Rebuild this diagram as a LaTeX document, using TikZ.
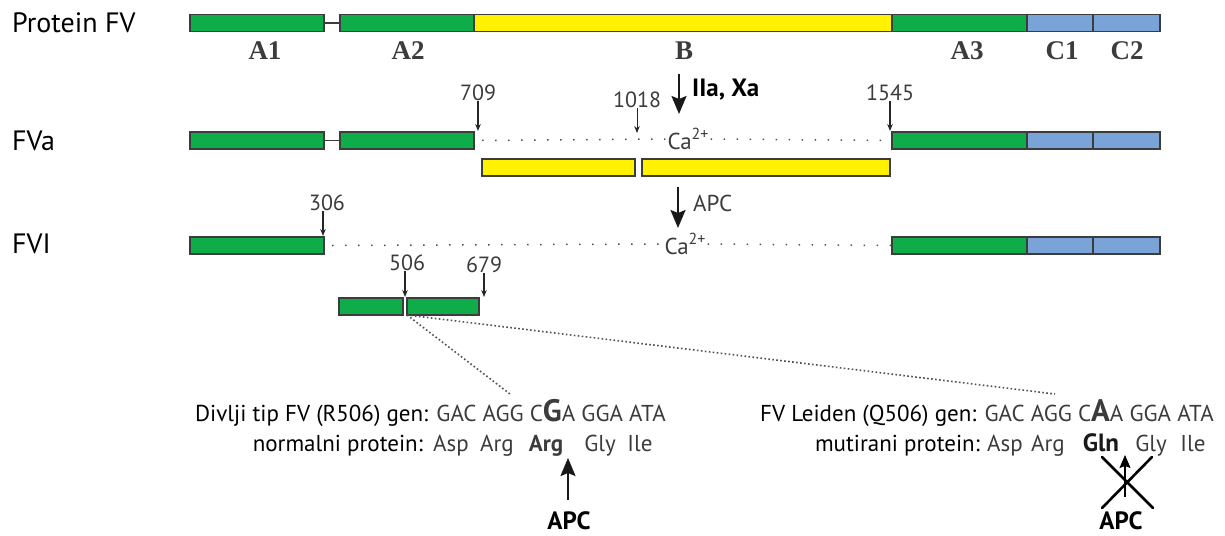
\documentclass[tikz,border=0pt]{standalone}
\usepackage{fontspec}
\setmainfont{PT Sans}
\newfontfamily\serifbf{Liberation Serif}
\usetikzlibrary{arrows.meta}
\definecolor{fvgreen}{RGB}{14,173,74}
\definecolor{fvyellow}{RGB}{255,241,0}
\definecolor{fvblue}{RGB}{122,164,216}
\definecolor{edgec}{RGB}{60,60,60}
\definecolor{txtgray}{RGB}{60,60,60}
\definecolor{dotgray}{RGB}{80,80,80}
\newcommand\casup{Ca\raisebox{0.42em}{\fontsize{16}{16}\selectfont 2+}}
\begin{document}
\begin{tikzpicture}[x=1pt,y=-1pt,
  seg/.style={draw=edgec, line width=1.6pt, minimum height=17pt, inner sep=0pt, outer sep=0pt},
  dom/.style={font=\serifbf\bfseries\fontsize{27}{27}\selectfont, text=txtgray, inner sep=0pt},
  rowlab/.style={font=\fontsize{28}{28}\selectfont, anchor=west, inner sep=0pt},
  num/.style={font=\fontsize{22}{22}\selectfont, text=txtgray, inner sep=0pt},
  ca/.style={font=\fontsize{23}{23}\selectfont, text=txtgray, inner sep=2pt},
  smarrow/.style={-{Stealth[length=7pt,width=5.5pt]}, line width=1.1pt, draw=black!85},
  bigarrow/.style={-{Stealth[length=18pt,width=15pt,inset=3pt]}, line width=2pt, draw=black!90},
  dots/.style={draw=dotgray, line width=1.5pt, dash pattern=on 1.5pt off 11.5pt},
  densedots/.style={draw=dotgray, line width=1.6pt, dash pattern=on 1.6pt off 2.4pt},
  linker/.style={draw=edgec, line width=1.2pt},
  seqtxt/.style={font=\fontsize{23}{23}\selectfont, inner sep=0pt},
  aa/.style={font=\fontsize{23}{23}\selectfont, text=txtgray, inner sep=0pt, anchor=base},
  aab/.style={font=\bfseries\fontsize{25}{25}\selectfont, text=black!90, inner sep=0pt, anchor=base},
  apc/.style={font=\bfseries\fontsize{25}{25}\selectfont, inner sep=0pt, anchor=base}
]
\useasboundingbox (0,0) rectangle (1225,535);

% ---------- Row 1: Protein FV ----------
\node[rowlab] (lab1) at (12,23) {Protein FV};
\node[seg, fill=fvgreen,  minimum width=134pt] (r1a1) at (257,23) {};
\node[seg, fill=fvgreen,  minimum width=134pt] (r1a2) at (407,23) {};
\node[seg, fill=fvyellow, minimum width=418pt] (r1b)  at (683,23) {};
\node[seg, fill=fvgreen,  minimum width=135pt] (r1a3) at (959.5,23) {};
\node[seg, fill=fvblue,   minimum width=66pt]  (r1c1) at (1060,23) {};
\node[seg, fill=fvblue,   minimum width=67pt]  (r1c2) at (1126.5,23) {};
\draw[linker] (r1a1.east) -- (r1a2.west);

\node[dom] (dA1) at (265,51) {A1};
\node[dom] (dA2) at (408,51) {A2};
\node[dom] (dB)  at (684,51) {B};
\node[dom] (dA3) at (967,51) {A3};
\node[dom] (dC1) at (1062,51) {C1};
\node[dom] (dC2) at (1127,51) {C2};

% ---------- Row 2: FVa ----------
\node[rowlab] (lab2) at (12,141) {FVa};
\node[seg, fill=fvgreen,  minimum width=134pt] (r2a1) at (257,140.5) {};
\node[seg, fill=fvgreen,  minimum width=134pt] (r2a2) at (407,140.5) {};
\node[seg, fill=fvgreen,  minimum width=135pt] (r2a3) at (959.5,140.5) {};
\node[seg, fill=fvblue,   minimum width=66pt]  (r2c1) at (1060,140.5) {};
\node[seg, fill=fvblue,   minimum width=67pt]  (r2c2) at (1126.5,140.5) {};
\draw[linker] (r2a1.east) -- (r2a2.west);
\node[ca] (ca2) at (688,139) {\casup};
\draw[dots] ([xshift=8pt]r2a2.east) -- (ca2.west);
\draw[dots] (ca2.east) -- (r2a3.west);

\node[seg, fill=fvyellow, minimum width=153pt] (y1) at (558.5,167.5) {};
\node[seg, fill=fvyellow, minimum width=248pt] (y2) at (766,167.5) {};

% cleavage numbers
\node[num] (n709)  at (478,93)  {709};
\node[num] (n1018) at (637,100) {1018};
\node[num] (n1545) at (890,93)  {1545};
\coordinate (t709)  at (478,131);
\coordinate (t1018) at (637,133);
\coordinate (t1545) at (890,131);
\draw[smarrow] (n709.south)  -- (t709);
\draw[smarrow, line width=0.8pt] (n1018.south) -- (t1018);
\draw[smarrow] (n1545.south) -- (t1545);

% IIa, Xa arrow
\coordinate (ba1s) at (679,74);
\coordinate (ba1e) at (679,114);
\draw[bigarrow] (ba1s) -- (ba1e);
\node[font=\bfseries\fontsize{25}{25}\selectfont, anchor=west, inner sep=0pt] (iia) at (692,90) {IIa, Xa};

% APC arrow
\coordinate (ba2s) at (678,187);
\coordinate (ba2e) at (678,228);
\draw[bigarrow] (ba2s) -- (ba2e);
\node[font=\fontsize{23}{23}\selectfont, text=txtgray, anchor=west, inner sep=0pt] (apcm) at (693,203) {APC};

% ---------- Row 3: FVI ----------
\node[rowlab] (lab3) at (12,244) {FVI};
\node[seg, fill=fvgreen,  minimum width=134pt] (r3a1) at (257,245.5) {};
\node[seg, fill=fvgreen,  minimum width=135pt] (r3a3) at (959.5,245.5) {};
\node[seg, fill=fvblue,   minimum width=66pt]  (r3c1) at (1060,245.5) {};
\node[seg, fill=fvblue,   minimum width=67pt]  (r3c2) at (1126.5,245.5) {};
\node[ca] (ca3) at (685,244) {\casup};
\draw[dots] ([xshift=8pt]r3a1.east) -- (ca3.west);
\draw[dots] (ca3.east) -- (r3a3.west);

\node[num] (n306) at (327,203) {306};
\coordinate (t306) at (323,236);
\draw[smarrow] (n306.south -| t306) -- (t306);

% fragments
\node[seg, fill=fvgreen, minimum width=64pt] (f1) at (371,306.5) {};
\node[seg, fill=fvgreen, minimum width=72pt] (f2) at (443,306.5) {};
\node[num] (n506) at (407,263) {506};
\node[num] (n679) at (484,265) {679};
\coordinate (t506) at (405,297);
\coordinate (t679) at (484,297);
\draw[smarrow] (n506.south -| t506) -- (t506);
\draw[smarrow] (n679.south) -- (t679);

% zoom lines
\coordinate (zl) at (510,394);
\coordinate (zr) at (1055,394);
\draw[densedots] (f2.south west) -- (zl);
\draw[densedots] (f2.south west) -- (zr);

% ---------- Sequences ----------
\node[seqtxt, anchor=base west] (wt1) at (195,421)
  {Divlji tip FV (R506) gen: \textcolor{txtgray}{GAC AGG C{\bfseries\fontsize{31}{31}\selectfont G}A GGA ATA}};
\node[seqtxt, anchor=base east] (wt2) at (423,451) {normalni protein:};
\node[aa]  (wAsp)  at (451,451) {Asp};
\node[aa]  (wArg1) at (497,451) {Arg};
\node[aa]  (wArg2) at (546,451) {\bfseries Arg};
\node[aa]  (wGly)  at (600,451) {Gly};
\node[aa]  (wIle)  at (640,451) {Ile};
\coordinate (wArrS) at (568,500);
\coordinate (wArrE) at (568,458);
\draw[bigarrow] (wArrS) -- (wArrE);
\node[apc] (wapc) at (569,529) {APC};

\node[seqtxt, anchor=base west] (mt1) at (760,421)
  {FV Leiden (Q506) gen: \textcolor{txtgray}{GAC AGG C{\bfseries\fontsize{31}{31}\selectfont A}A GGA ATA}};
\node[seqtxt, anchor=base east] (mt2) at (980,451) {mutirani protein:};
\node[aa]  (mAsp)  at (1005,451) {Asp};
\node[aa]  (mArg)  at (1048,451) {Arg};
\node[aab] (mGln)  at (1101,451) {Gln};
\node[aa]  (mGly)  at (1151,451) {Gly};
\node[aa]  (mIle)  at (1193,451) {Ile};
\coordinate (mArrS) at (1125,497);
\coordinate (mArrE) at (1125,455);
\draw[-{Stealth[length=13pt,width=11pt,inset=2pt]}, line width=1.1pt] (mArrS) -- (mArrE);
\coordinate (x1) at (1102,457);
\coordinate (x2) at (1153,508);
\coordinate (x3) at (1152,457);
\coordinate (x4) at (1102,508);
\draw[line width=2.6pt, line cap=round] (x1) -- (x2);
\draw[line width=2.6pt, line cap=round] (x3) -- (x4);
\node[apc] (mapc) at (1121,529) {APC};
\end{tikzpicture}
\end{document}
